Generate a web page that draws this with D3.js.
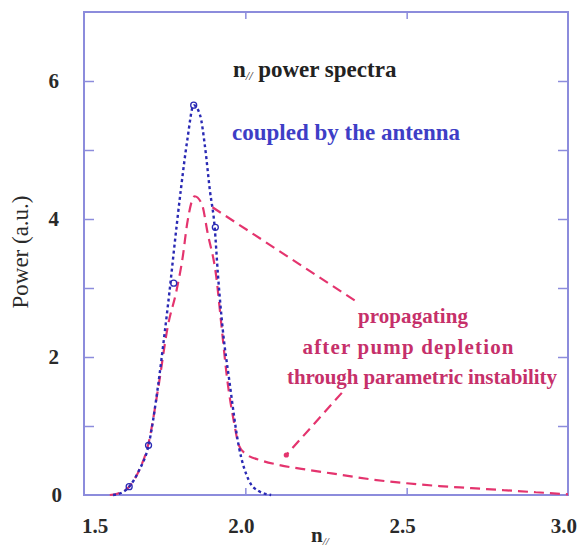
<!DOCTYPE html>
<html><head><meta charset="utf-8">
<script src="https://cdn.jsdelivr.net/npm/d3@7"></script>
<style>
html,body{margin:0;padding:0;background:#fff;}
svg{display:block;}
text{font-family:"Liberation Serif","Times New Roman",serif;}
</style></head>
<body>
<svg id="chart" width="578" height="547"></svg>
<script>
// ---- data ----
const antennaX = [1.59,1.62,1.64,1.67,1.70,1.73,1.75,1.765,1.78,1.80,1.82,1.84,1.86,1.875,1.89,1.905,1.915,1.93,1.95,1.98,2.01,2.04,2.08];
const antennaY = [0.0,0.04,0.12,0.35,0.72,1.6,2.35,2.95,3.6,4.42,5.14,5.65,5.5,5.05,4.42,3.88,3.2,2.4,1.67,0.7,0.22,0.06,0.0];
const markerX = [1.64,1.70,1.778,1.84,1.907];
const markerY = [0.12,0.72,3.07,5.65,3.88];
const propX = [1.58,1.61,1.64,1.67,1.70,1.73,1.76,1.787,1.806,1.82,1.843,1.865,1.883,1.91,1.925,1.944,1.965,1.98,2.0,2.05,2.1,2.2,2.3,2.4,2.5,2.6,2.7,2.8,2.9,3.0];
const propY = [0.0,0.03,0.12,0.35,0.75,1.55,2.45,2.97,3.45,3.94,4.33,4.22,3.8,3.16,2.5,1.67,1.05,0.72,0.6,0.5,0.44,0.36,0.29,0.22,0.17,0.13,0.1,0.07,0.04,0.01];
const xTicks = [1.5,2.0,2.5,3.0];
const xTickLabels = ["1.5","2.0","2.5","3.0"];
const yTicks = [0,2,4,6];
const yTickLabels = ["0","2","4","6"];
const yMinorTicks = [1,2,3,4,5,6];
// annotation pointer lines (data coords)
const pointer1 = [[1.898,4.17],[2.352,2.78]];
const pointer2 = [[2.299,1.48],[2.127,0.58]];
const titleText = "power spectra";
const antennaLabel = "coupled by the antenna";
const propLabel = ["propagating","after pump depletion","through parametric instability"];

// ---- chart ----
const svg = d3.select("#chart");
const x = d3.scaleLinear().domain([1.5,3.0]).range([84,568]);
const y = d3.scaleLinear().domain([0,7]).range([495,12]);

const frameColor = "#8c8cdc";
const blue = "#2a2ab4";
const blueText = "#3e3ec6";
const red = "#e4346e";
const redText = "#c6306a";
const tickText = "#2a2a2a";

// frame
svg.append("rect").attr("x",x(1.5)).attr("y",y(7)).attr("width",x(3.0)-x(1.5)).attr("height",y(0)-y(7))
  .attr("fill","none").attr("stroke",frameColor).attr("stroke-width",2);

// ticks (inside, mirrored)
const styleTicks = g=>{g.select(".domain").remove();g.selectAll("line").attr("stroke",frameColor).attr("stroke-width",1.5);};
svg.append("g").attr("transform",`translate(0,${y(0)})`).call(d3.axisBottom(x).tickValues([2.0,2.5]).tickSize(-7).tickFormat("")).call(styleTicks);
svg.append("g").attr("transform",`translate(0,${y(7)})`).call(d3.axisTop(x).tickValues([2.0,2.5]).tickSize(-7).tickFormat("")).call(styleTicks);
svg.append("g").attr("transform",`translate(${x(1.5)},0)`).call(d3.axisLeft(y).tickValues(yMinorTicks).tickSize(-10).tickFormat("")).call(styleTicks);
svg.append("g").attr("transform",`translate(${x(3.0)},0)`).call(d3.axisRight(y).tickValues(yMinorTicks).tickSize(-10).tickFormat("")).call(styleTicks);

// tick labels
const nX = xTicks.length;
svg.append("g").selectAll("text").data(xTicks).join("text")
  .attr("x",(d,i)=>x(d) + (i===0 ? -2 : (i===nX-1 ? 9 : -4)))
  .attr("y",y(0)+38)
  .attr("text-anchor",(d,i)=>i===0?"start":(i===nX-1?"end":"middle"))
  .attr("font-size",21).attr("font-weight","bold").attr("fill",tickText).text((d,i)=>xTickLabels[i]);
svg.append("g").selectAll("text").data(yTicks).join("text")
  .attr("x",(d,i)=>x(1.5)-25 + (d===0?3:0)).attr("y",d=>y(d)+7).attr("text-anchor","end")
  .attr("font-size",21).attr("font-weight","bold").attr("fill",tickText).text((d,i)=>yTickLabels[i]);

// axis titles
const xl = svg.append("text").attr("x",320).attr("y",542).attr("text-anchor","middle")
  .attr("font-size",21).attr("fill",tickText).attr("font-weight","bold");
xl.append("tspan").text("n");
xl.append("tspan").attr("font-size",11).attr("font-style","italic").attr("font-weight","normal").attr("dy",3).text("//");
svg.append("text").attr("transform","translate(28,252) rotate(-90)").attr("text-anchor","middle")
  .attr("font-size",23).attr("fill",tickText).text("Power (a.u.)");

// curves
const line = d3.line().x(d=>x(d[0])).y(d=>y(d[1])).curve(d3.curveMonotoneX);
const antenna = antennaX.map((v,i)=>[v,antennaY[i]]);
const prop = propX.map((v,i)=>[v,propY[i]]);

svg.append("path").datum(prop).attr("d",line).attr("fill","none")
  .attr("stroke",red).attr("stroke-width",2.2).attr("stroke-dasharray","10,6");
svg.append("path").datum(antenna).attr("d",line).attr("fill","none")
  .attr("stroke",blue).attr("stroke-width",2.4).attr("stroke-dasharray","3,3");
svg.append("g").selectAll("circle").data(markerX).join("circle")
  .attr("cx",d=>x(d)).attr("cy",(d,i)=>y(markerY[i])).attr("r",3)
  .attr("fill","none").attr("stroke",blue).attr("stroke-width",1.3);

// pointers
const pl = d3.line().x(d=>x(d[0])).y(d=>y(d[1]));
svg.append("path").attr("d",pl(pointer1)).attr("fill","none").attr("stroke",red).attr("stroke-width",2.2).attr("stroke-dasharray","10,6");
svg.append("path").attr("d",pl(pointer2)).attr("fill","none").attr("stroke",red).attr("stroke-width",2.2).attr("stroke-dasharray","10,6");
svg.append("circle").attr("cx",x(pointer2[1][0])).attr("cy",y(pointer2[1][1])).attr("r",2.6).attr("fill",red);

// title
const t = svg.append("text").attr("x",233).attr("y",77).attr("font-size",23).attr("font-weight","bold").attr("fill","#222");
t.append("tspan").text("n");
t.append("tspan").attr("font-size",12).attr("font-style","italic").attr("font-weight","normal").attr("dy",3).text("//");
t.append("tspan").attr("dy",-3).text(" " + titleText);

svg.append("text").attr("x",232).attr("y",140).attr("font-size",23).attr("font-weight","bold").attr("fill",blueText).text(antennaLabel);

const propXs = [413,408,422];
const propYs = [323,354,384];
const propW = [110,211,270];
svg.append("g").selectAll("text").data(propLabel).join("text")
  .attr("x",(d,i)=>propXs[i]).attr("y",(d,i)=>propYs[i]).attr("text-anchor","middle")
  .attr("textLength",(d,i)=>propW[i]).attr("lengthAdjust","spacing")
  .attr("font-size",21).attr("font-weight","bold").attr("fill",redText).text(d=>d);
</script>
</body></html>
